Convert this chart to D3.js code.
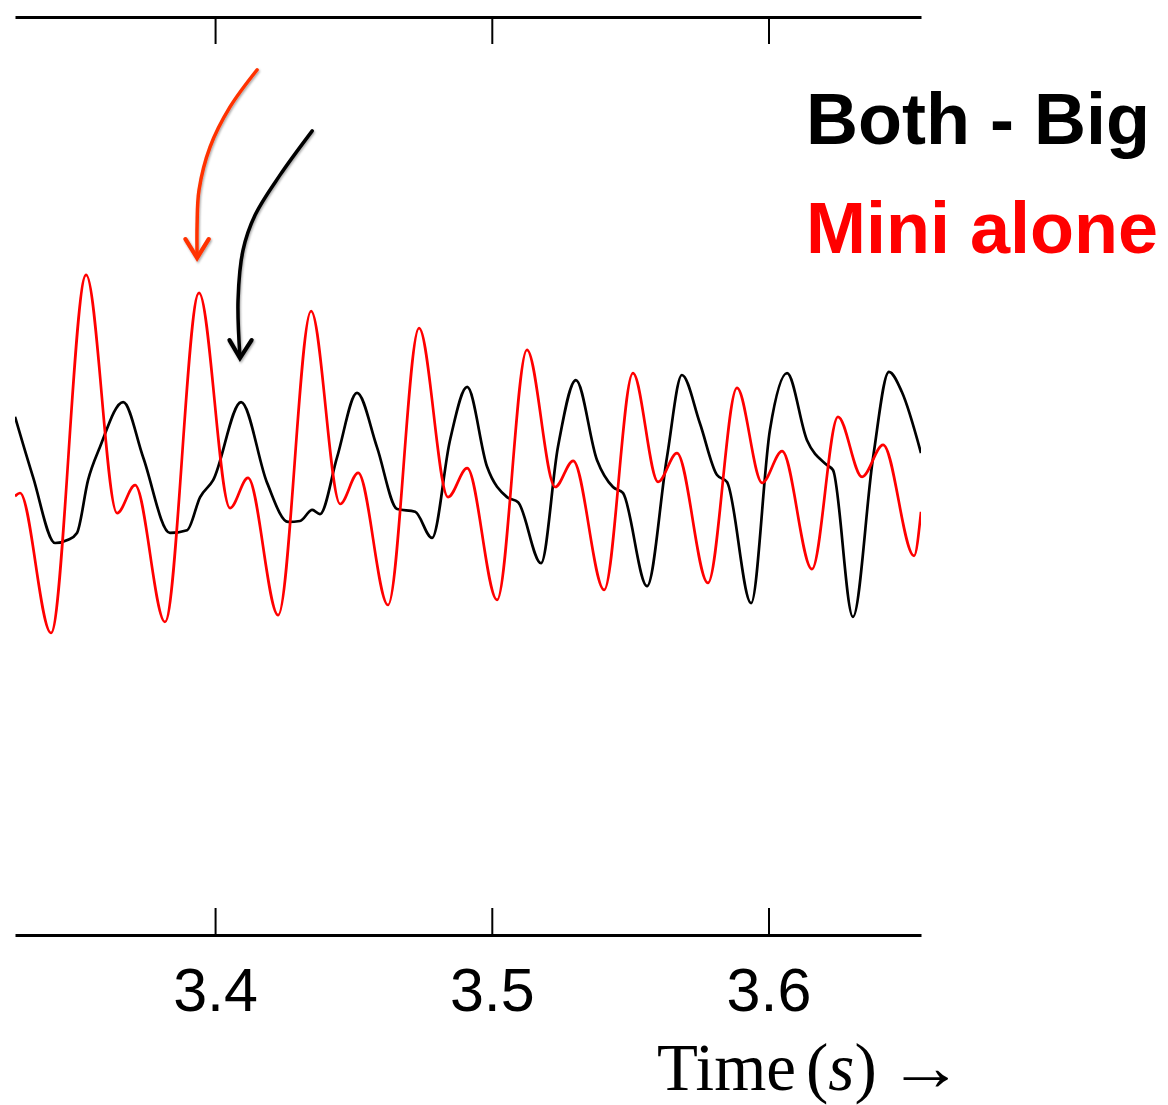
<!DOCTYPE html>
<html>
<head>
<meta charset="utf-8">
<script src="https://cdn.jsdelivr.net/npm/d3@7"></script>
<style>
  html, body { margin: 0; padding: 0; background: #fff; }
  svg { display: block; }
</style>
</head>
<body>
<svg id="chart" width="1168" height="1105"></svg>
<script>
// ---- Data (time in s, amplitude in arbitrary units) ----
const blackTime = [3.3277,3.3342,3.3422,3.3469,3.3501,3.3541,3.3584,3.3668,3.3740,3.3837,3.3899,3.3946,3.3993,3.4094,3.4188,3.4264,3.4307,3.4351,3.4379,3.4441,3.4513,3.4585,3.4658,3.4723,3.4784,3.4849,3.4911,3.4983,3.5055,3.5095,3.5178,3.5239,3.5304,3.5380,3.5438,3.5474,3.5561,3.5633,3.5687,3.5752,3.5814,3.5850,3.5937,3.6005,3.6067,3.6139,3.6211,3.6233,3.6305,3.6378,3.6435,3.6482,3.6551];
const blackValue = [0.129,-0.002,-0.146,-0.139,-0.124,-0.009,0.063,0.161,0.041,-0.124,-0.118,-0.046,-0.009,0.161,-0.015,-0.100,-0.098,-0.074,-0.083,0.041,0.181,0.063,-0.072,-0.078,-0.135,0.078,0.194,0.020,-0.046,-0.057,-0.190,0.063,0.209,0.035,-0.024,-0.037,-0.240,0.041,0.220,0.115,0.002,-0.013,-0.277,0.100,0.224,0.078,0.024,0.013,-0.307,0.041,0.227,0.183,0.050];

const redTime = [3.3277,3.3295,3.3407,3.3534,3.3646,3.3711,3.3819,3.3942,3.4054,3.4119,3.4228,3.4347,3.4452,3.4517,3.4625,3.4737,3.4842,3.4911,3.5019,3.5127,3.5229,3.5294,3.5406,3.5510,3.5601,3.5669,3.5781,3.5886,3.5977,3.6049,3.6157,3.6251,3.6338,3.6414,3.6526,3.6551];
const redValue = [-0.044,-0.037,-0.342,0.438,-0.081,-0.020,-0.318,0.399,-0.070,-0.004,-0.303,0.359,-0.061,0.007,-0.281,0.322,-0.046,0.017,-0.270,0.275,-0.024,0.033,-0.248,0.224,-0.013,0.050,-0.233,0.192,-0.015,0.054,-0.203,0.129,-0.002,0.068,-0.174,-0.078];

const tickValues = [3.4, 3.5, 3.6];
const tickLabels = ["3.4", "3.5", "3.6"];
const seriesNames = ["Both - Big", "Mini alone"];

// annotation arrows (data coordinates)
const redArrowTime  = [3.4152,3.4054,3.3982,3.3942,3.3935,3.3935];
const redArrowValue = [0.885,0.804,0.717,0.623,0.547,0.477];
const redHeadTime   = [3.3893,3.3935,3.3977];
const redHeadValue  = [0.516,0.475,0.516];
const blackArrowTime  = [3.4351,3.4235,3.4145,3.4101,3.4083,3.4090];
const blackArrowValue = [0.752,0.656,0.569,0.492,0.383,0.259];
const blackHeadTime   = [3.4052,3.4090,3.4132];
const blackHeadValue  = [0.296,0.257,0.296];

// ---- Layout ----
const svg = d3.select("#chart");
const pLeft = 15, pRight = 921, pTop = 17, pBottom = 935;

const x = d3.scaleLinear().domain([3.3277, 3.6551]).range([pLeft, pRight]);
const y = d3.scaleLinear().domain([-1, 1]).range([pBottom, pTop]);

const defs = svg.append("defs");
defs.append("clipPath").attr("id", "plotclip")
  .append("rect").attr("x", pLeft).attr("y", pTop).attr("width", pRight - pLeft).attr("height", pBottom - pTop);
const sh = defs.append("filter").attr("id", "shadow")
  .attr("x", "-20%").attr("y", "-20%").attr("width", "140%").attr("height", "140%");
sh.append("feDropShadow").attr("dx", 1).attr("dy", 1.5).attr("stdDeviation", 1.2)
  .attr("flood-color", "#000").attr("flood-opacity", 0.35);

// axes
const bottomAxis = d3.axisBottom(x).tickValues(tickValues)
  .tickFormat((d, i) => tickLabels[i]).tickSizeInner(-27).tickSizeOuter(0).tickPadding(33);
const gB = svg.append("g").attr("transform", `translate(0,${pBottom})`).call(bottomAxis);
gB.select(".domain").attr("stroke", "#000").attr("stroke-width", 3);
gB.selectAll(".tick line").attr("stroke", "#000").attr("stroke-width", 2);
gB.selectAll(".tick text").attr("font-family", "'Liberation Sans', Arial, sans-serif")
  .attr("font-size", 61).attr("fill", "#000");

const topAxis = d3.axisTop(x).tickValues(tickValues).tickFormat("")
  .tickSizeInner(-27).tickSizeOuter(0);
const gT = svg.append("g").attr("transform", `translate(0,${pTop})`).call(topAxis);
gT.select(".domain").attr("stroke", "#000").attr("stroke-width", 3);
gT.selectAll(".tick line").attr("stroke", "#000").attr("stroke-width", 2);

// series
const line = d3.line().x(d => x(d[0])).y(d => y(d[1])).curve(d3.curveMonotoneX);
const plot = svg.append("g").attr("clip-path", "url(#plotclip)");
const blackData = blackTime.map((t, i) => [t, blackValue[i]]);
const redData = redTime.map((t, i) => [t, redValue[i]]);
plot.append("path").datum(blackData).attr("d", line)
  .attr("fill", "none").attr("stroke", "#000").attr("stroke-width", 2.7).attr("stroke-linejoin", "round");
plot.append("path").datum(redData).attr("d", line)
  .attr("fill", "none").attr("stroke", "#ff0000").attr("stroke-width", 2.7).attr("stroke-linejoin", "round");

// annotation arrows
const arrowLine = d3.line().x(d => x(d[0])).y(d => y(d[1])).curve(d3.curveCatmullRom);
const headLine = d3.line().x(d => x(d[0])).y(d => y(d[1]));
function arrow(ts, vs, hts, hvs, color) {
  const g = svg.append("g").attr("filter", "url(#shadow)");
  g.append("path").datum(ts.map((t, i) => [t, vs[i]])).attr("d", arrowLine)
    .attr("fill", "none").attr("stroke", color).attr("stroke-width", 3.5).attr("stroke-linecap", "round");
  g.append("path").datum(hts.map((t, i) => [t, hvs[i]])).attr("d", headLine)
    .attr("fill", "none").attr("stroke", color).attr("stroke-width", 4.2)
    .attr("stroke-linecap", "round").attr("stroke-linejoin", "miter");
}
arrow(redArrowTime, redArrowValue, redHeadTime, redHeadValue, "#ff3300");
arrow(blackArrowTime, blackArrowValue, blackHeadTime, blackHeadValue, "#000");

// legend texts
const legendColors = ["#000", "#ff0000"];
const legendY = [144, 253];
seriesNames.forEach((n, i) => {
  svg.append("text").attr("x", 806).attr("y", legendY[i])
    .attr("font-family", "'Liberation Sans', Arial, sans-serif").attr("font-weight", "bold")
    .attr("font-size", 72).attr("fill", legendColors[i]).text(n);
});

// x-axis label
const lab = svg.append("text").attr("x", 657).attr("y", 1090)
  .attr("font-family", "'Liberation Serif', 'Times New Roman', serif").attr("font-size", 67).attr("fill", "#000");
lab.append("tspan").text("Time");
lab.append("tspan").attr("dx", 10).text("(");
lab.append("tspan").attr("font-style", "italic").text("s");
lab.append("tspan").text(")");
svg.append("text").attr("x", 888).attr("y", 1090)
  .attr("font-family", "'Liberation Serif', 'Times New Roman', serif").attr("font-size", 67)
  .attr("textLength", 75).attr("lengthAdjust", "spacingAndGlyphs").attr("fill", "#000").text("→");
</script>
</body>
</html>
